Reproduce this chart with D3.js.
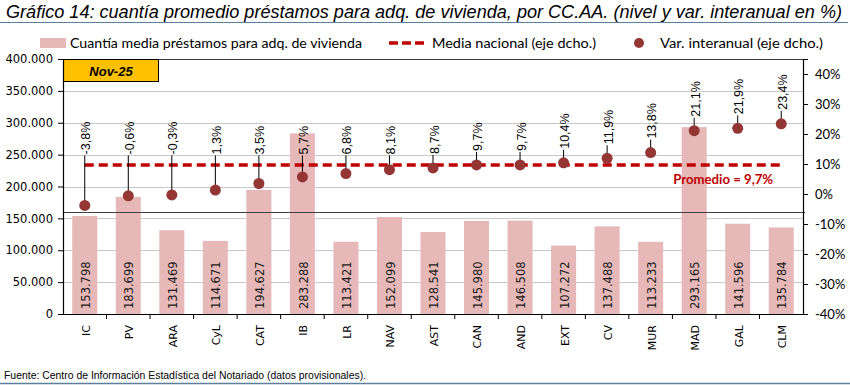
<!DOCTYPE html>
<html>
<head>
<meta charset="utf-8">
<script src="https://cdn.jsdelivr.net/npm/d3@7"></script>
<style>
  body { margin: 0; background: #fff; }
  svg { display: block; }
</style>
</head>
<body>
<div id="chart"></div>
<script>
// chart data
var categories = ["IC", "PV", "ARA", "CyL", "CAT", "IB", "LR", "NAV", "AST", "CAN", "AND", "EXT", "CV", "MUR", "MAD", "GAL", "CLM"];
var amounts = [153798, 183699, 131469, 114671, 194627, 283288, 113421, 152099, 128541, 145980, 146508, 107272, 137488, 113233, 293165, 141596, 135784];
var variation = [-3.8, -0.6, -0.3, 1.3, 3.5, 5.7, 6.8, 8.1, 8.7, 9.7, 9.7, 10.4, 11.9, 13.8, 21.1, 21.9, 23.4];
var nationalAvg = 9.7;
var leftTicks = [0, 50000, 100000, 150000, 200000, 250000, 300000, 350000, 400000];
var rightTicks = [-40, -30, -20, -10, 0, 10, 20, 30, 40];
var crossValue = -6;
var period = "Nov-25";

var W = 850, H = 385;
var margin = { top: 59, right: 47, bottom: 71, left: 63 };
var width = W - margin.left - margin.right,
    height = H - margin.top - margin.bottom;

var barColor = "#e6b9b8",
    dotColor = "#943634",
    lineRed = "#c00000",
    frameBlue = "#5b7f9c";

var es = d3.formatLocale({ decimal: ",", thousands: ".", grouping: [3], currency: ["", "€"] });
var fmtThousands = es.format(",.0f");
var fmtPct = function (v) { return v.toFixed(1).replace(".", ",") + "%"; };

var svg = d3.select("#chart").append("svg")
  .attr("width", W)
  .attr("height", H);

// title + rules
svg.append("text")
  .attr("x", 6).attr("y", 18)
  .attr("textLength", 836).attr("lengthAdjust", "spacingAndGlyphs")
  .style("font-family", "'Liberation Sans Narrow', 'Liberation Sans', Arial, sans-serif")
  .style("font-style", "italic")
  .style("font-size", "18px")
  .style("fill", "#000")
  .text("Gráfico 14: cuantía promedio préstamos para adq. de vivienda, por CC.AA. (nivel y var. interanual en %)");

svg.append("line")
  .attr("x1", 0).attr("x2", 848).attr("y1", 22.5).attr("y2", 22.5)
  .style("stroke", frameBlue).style("stroke-width", 1.2);

svg.append("line")
  .attr("x1", 0).attr("x2", 850).attr("y1", 383.5).attr("y2", 383.5)
  .style("stroke", frameBlue).style("stroke-width", 1.5);

svg.append("text")
  .attr("x", 4).attr("y", 379)
  .attr("textLength", 362).attr("lengthAdjust", "spacingAndGlyphs")
  .style("font-family", "'Liberation Sans', Arial, sans-serif")
  .style("font-size", "10px")
  .text("Fuente: Centro de Información Estadística del Notariado (datos provisionales).");

// legend
var legend = svg.append("g").attr("transform", "translate(0,43)");
var legendFont = "Lato, 'Open Sans', sans-serif";
legend.append("rect")
  .attr("x", 40).attr("y", -5).attr("width", 26).attr("height", 10)
  .style("fill", barColor);
legend.append("text")
  .attr("x", 70).attr("y", 0).attr("dy", "0.35em")
  .attr("textLength", 292).attr("lengthAdjust", "spacingAndGlyphs")
  .style("font-family", legendFont).style("font-size", "13.5px")
  .text("Cuantía media préstamos para adq. de vivienda");
legend.append("line")
  .attr("x1", 389).attr("x2", 424).attr("y1", 0).attr("y2", 0)
  .style("stroke", lineRed).style("stroke-width", 3.5).style("stroke-dasharray", "9,4");
legend.append("text")
  .attr("x", 432).attr("y", 0).attr("dy", "0.35em")
  .attr("textLength", 164).attr("lengthAdjust", "spacingAndGlyphs")
  .style("font-family", legendFont).style("font-size", "13.5px")
  .text("Media nacional (eje dcho.)");
legend.append("circle")
  .attr("cx", 639).attr("cy", 0).attr("r", 5)
  .style("fill", dotColor);
legend.append("text")
  .attr("x", 660).attr("y", 0).attr("dy", "0.35em")
  .attr("textLength", 163).attr("lengthAdjust", "spacingAndGlyphs")
  .style("font-family", legendFont).style("font-size", "13.5px")
  .text("Var. interanual (eje dcho.)");

var g = svg.append("g")
  .attr("transform", "translate(" + margin.left + "," + margin.top + ")");

var x = d3.scaleBand()
  .domain(categories)
  .range([0, width])
  .padding(0);
var yL = d3.scaleLinear().domain([0, 400000]).range([height, 0]);
var yR = d3.scaleLinear().domain([-40, 45]).range([height, 0]);

var barW = x.bandwidth() * 0.575;
var cx = function (c) { return x(c) + x.bandwidth() / 2; };

// gridlines
g.selectAll(".grid")
  .data(leftTicks.slice(1))
  .enter().append("line")
  .attr("class", "grid")
  .attr("x1", 0).attr("x2", width)
  .attr("y1", function (d) { return Math.round(yL(d)) + 0.5; })
  .attr("y2", function (d) { return Math.round(yL(d)) + 0.5; })
  .style("stroke", function (d, i) { return d === 400000 ? "#404040" : "#c8c8c8"; })
  .style("stroke-width", 1);

// bars
var data = categories.map(function (c, i) {
  return { cat: c, amount: amounts[i], v: variation[i] };
});

g.selectAll(".bar")
  .data(data)
  .enter().append("rect")
  .attr("class", "bar")
  .attr("x", function (d) { return cx(d.cat) - barW / 2; })
  .attr("width", barW)
  .attr("y", function (d) { return yL(d.amount); })
  .attr("height", function (d) { return height - yL(d.amount); })
  .style("fill", barColor);

// secondary axis crossing line
g.append("line")
  .attr("x1", 0).attr("x2", width + 2)
  .attr("y1", Math.round(yR(crossValue)) + 0.5)
  .attr("y2", Math.round(yR(crossValue)) + 0.5)
  .style("stroke", "#404040").style("stroke-width", 1.2);

// bar value labels
g.selectAll(".barlabel")
  .data(data)
  .enter().append("text")
  .attr("class", "barlabel")
  .attr("transform", function (d) { return "translate(" + (cx(d.cat) + 1) + "," + (height - 5) + ") rotate(-90)"; })
  .attr("dy", "0.36em")
  .style("text-anchor", "start")
  .style("font-family", "'DejaVu Sans', Verdana, sans-serif")
  .style("font-size", "11.5px")
  .style("fill", "#1a1a1a")
  .text(function (d) { return fmtThousands(d.amount); });

// national average dashed line
g.append("line")
  .attr("x1", cx(categories[0])).attr("x2", cx(categories[categories.length - 1]))
  .attr("y1", yR(nationalAvg)).attr("y2", yR(nationalAvg))
  .style("stroke", lineRed).style("stroke-width", 3.5).style("stroke-dasharray", "9,5");

g.append("text")
  .attr("x", cx("MAD") - 21).attr("y", yR(nationalAvg) + 15)
  .attr("dy", "0.35em")
  .attr("textLength", 100).attr("lengthAdjust", "spacingAndGlyphs")
  .style("font-family", legendFont).style("font-weight", "bold").style("font-size", "13px")
  .style("fill", lineRed)
  .text("Promedio = " + fmtPct(nationalAvg));

// label positions for the yearly variation
var labelCap = yR(13.2);
var labelBottom = function (d) { return Math.min(yR(d.v) - 14, labelCap); };

g.selectAll(".leader")
  .data(data)
  .enter().append("line")
  .attr("class", "leader")
  .attr("x1", function (d) { return cx(d.cat); })
  .attr("x2", function (d) { return cx(d.cat); })
  .attr("y1", function (d) { return yR(d.v); })
  .attr("y2", function (d) { return labelBottom(d) + 1; })
  .style("stroke", "#000").style("stroke-width", 1);

g.selectAll(".dot")
  .data(data)
  .enter().append("circle")
  .attr("class", "dot")
  .attr("cx", function (d) { return cx(d.cat); })
  .attr("cy", function (d) { return yR(d.v); })
  .attr("r", 5.5)
  .style("fill", dotColor);

g.selectAll(".pctlabel")
  .data(data)
  .enter().append("text")
  .attr("class", "pctlabel")
  .attr("transform", function (d) { return "translate(" + (cx(d.cat) + 1) + "," + labelBottom(d) + ") rotate(-90)"; })
  .attr("dy", "0.36em")
  .style("text-anchor", "start")
  .style("font-family", "'Liberation Sans', Arial, sans-serif")
  .style("font-size", "12.5px")
  .style("fill", "#000")
  .text(function (d) { return fmtPct(d.v); });

// period box
g.append("rect")
  .attr("x", 0.5).attr("y", 0.5).attr("width", 95).attr("height", 22)
  .style("fill", "#ffc000").style("stroke", "#000").style("stroke-width", 1);
g.append("text")
  .attr("x", 48).attr("y", 12).attr("dy", "0.35em")
  .style("text-anchor", "middle")
  .style("font-family", "'Liberation Sans', Arial, sans-serif")
  .style("font-weight", "bold").style("font-style", "italic").style("font-size", "13px")
  .text(period);

// axes
var axisFont = "'DejaVu Sans', Verdana, sans-serif";

var xAxis = d3.axisBottom(x).tickSize(0).tickFormat("");
var xg = g.append("g")
  .attr("transform", "translate(0," + height + ")")
  .call(xAxis);
xg.select(".domain").style("stroke", "#000").style("stroke-width", 1.2);
xg.selectAll(".boundary")
  .data(categories.slice(1))
  .enter().append("line")
  .attr("class", "boundary")
  .attr("x1", function (c) { return x(c); }).attr("x2", function (c) { return x(c); })
  .attr("y1", 0).attr("y2", 5)
  .style("stroke", "#000");
xg.selectAll(".catlabel")
  .data(categories)
  .enter().append("text")
  .attr("class", "catlabel")
  .attr("transform", function (c) { return "translate(" + (cx(c) + 1) + ",11) rotate(-90)"; })
  .attr("dy", "0.36em")
  .style("text-anchor", "end")
  .style("font-family", axisFont)
  .style("font-size", "11px")
  .style("fill", "#000")
  .text(function (c) { return c; });

var yAxisL = d3.axisLeft(yL).tickValues(leftTicks).tickSize(5).tickPadding(5)
  .tickFormat(function (d) { return fmtThousands(d); });
var ylg = g.append("g").call(yAxisL);
ylg.select(".domain").style("stroke", "#000").style("stroke-width", 1.2);
ylg.selectAll("text")
  .style("font-family", axisFont).style("font-size", "11.5px").style("fill", "#000");

var yAxisR = d3.axisRight(yR).tickValues(rightTicks).tickSize(5).tickPadding(7)
  .tickFormat(function (d) { return d + "%"; });
var yrg = g.append("g")
  .attr("transform", "translate(" + width + ",0)")
  .call(yAxisR);
yrg.select(".domain").style("stroke", "#000").style("stroke-width", 1.2);
yrg.selectAll("text")
  .style("font-family", legendFont).style("font-size", "13px").style("fill", "#000");
</script>
</body>
</html>
